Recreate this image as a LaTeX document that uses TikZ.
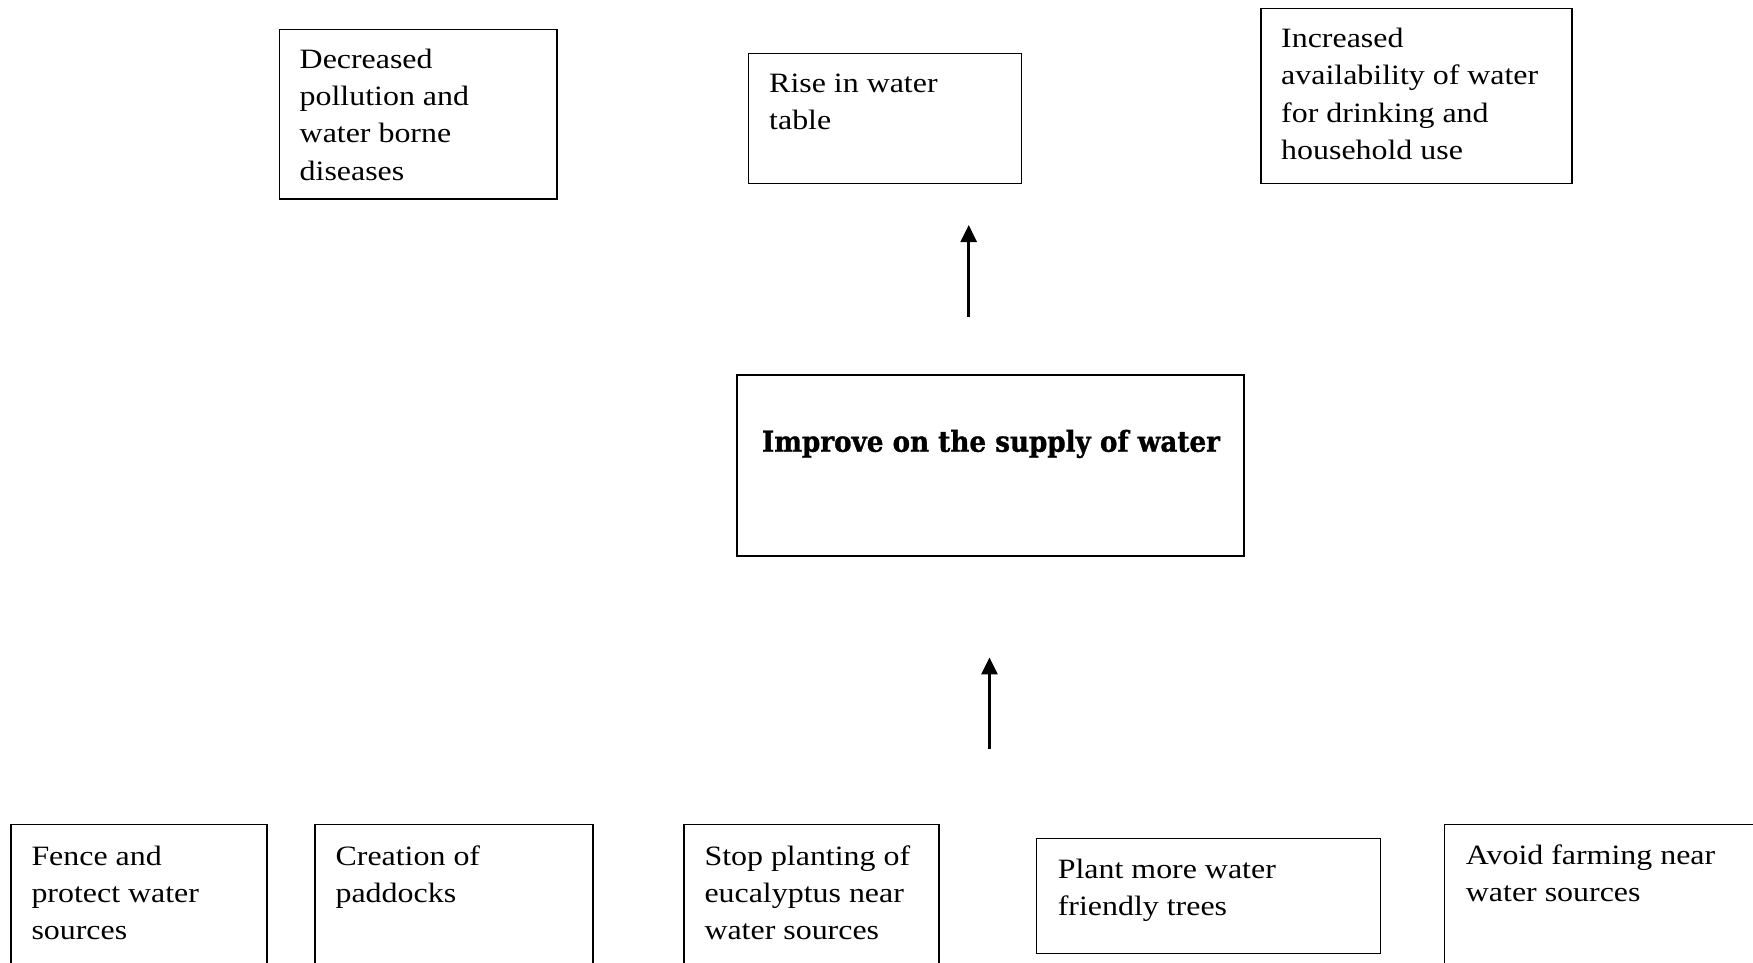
\documentclass[tikz,border=0pt]{standalone}
\usepackage{fontspec}
\usepackage{graphicx}
\setmainfont{Liberation Serif}[FakeStretch=1.14]
\newfontfamily\boldface{DejaVu Serif}[BoldFeatures={FakeBold=1.2}]
\usetikzlibrary{arrows.meta}
\tikzset{
  boxline/.style={draw=black, line width=1.6pt},
  boxtext/.style={anchor=base west, inner sep=0pt, font=\fontsize{28}{37.2}\selectfont},
  uparrow/.style={line width=2.7pt, -{Triangle[width=16pt,length=17pt]}}
}
\newcommand{\boxpar}[1]{\parbox[t]{400pt}{\raggedright #1}}
\begin{document}
\begin{tikzpicture}[x=1pt,y=-1pt]
\useasboundingbox (0,0) rectangle (1753,963);
\fill[white] (0,0) rectangle (1753,963);
\clip (0,0) rectangle (1753,963);

% top boxes
\draw[boxline] (279.5,29.5) rectangle (557,199);
\node[boxtext] (dec) at (299.5,68.5) {\boxpar{Decreased\\pollution and\\water borne\\diseases}};

\draw[boxline] (748.5,53.5) rectangle (1021.5,183.5);
\node[boxtext] (rise) at (769,92.7) {\boxpar{Rise in water\\table}};

\draw[boxline] (1261,8.5) rectangle (1572,183.5);
\node[boxtext] (inc) at (1281,47.7) {\boxpar{Increased\\availability of water\\for drinking and\\household use}};

% middle box
\draw[boxline] (737,375) rectangle (1244,556);
\node[anchor=base, inner sep=0pt] (main) at (991,451.7)
  {\resizebox{458pt}{\height}{\boldface\bfseries\fontsize{28.8}{30}\selectfont Improve on the supply of water}};

% bottom boxes
\draw[boxline] (11,824.5) rectangle (267,1000);
\node[boxtext] (fence) at (31.3,865) {\boxpar{Fence and\\protect water\\sources}};

\draw[boxline] (315,824.5) rectangle (593,1000);
\node[boxtext] (creat) at (335.4,865) {\boxpar{Creation of\\paddocks}};

\draw[boxline] (684,824.5) rectangle (939,1000);
\node[boxtext] (stop) at (704.3,865) {\boxpar{Stop planting of\\eucalyptus near\\water sources}};

\draw[boxline] (1036.6,838.3) rectangle (1380.4,953.3);
\node[boxtext] (plant) at (1057.6,878.3) {\boxpar{Plant more water\\friendly trees}};

\draw[boxline] (1444.6,824.3) rectangle (1760,1000);
\node[boxtext] (avoid) at (1465.7,864.3) {\boxpar{Avoid farming near\\water sources}};

% arrows
\coordinate (a1s) at (968.7,317);
\coordinate (a1e) at (968.7,225);
\coordinate (a2s) at (989.5,749);
\coordinate (a2e) at (989.5,657.4);
\draw[uparrow] (a1s) -- (a1e);
\draw[uparrow] (a2s) -- (a2e);
\end{tikzpicture}
\end{document}
